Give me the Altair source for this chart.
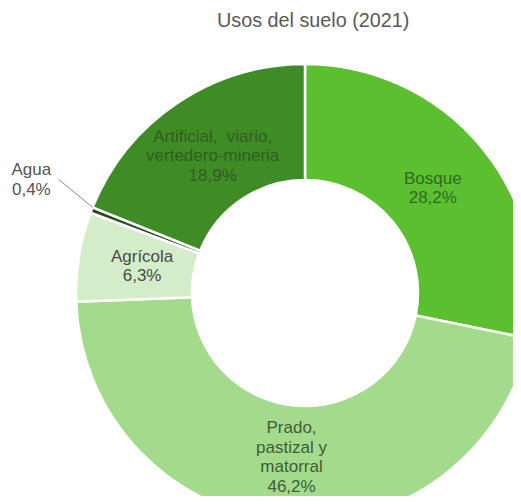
import altair as alt
import pandas as pd

categories = ["Bosque", "Prado, pastizal y matorral", "Agrícola", "Agua",
              "Artificial, viario, vertedero-mineria"]
values = [28.2, 46.2, 6.3, 0.4, 18.9]
labels = ["Bosque\n28,2%", "Prado,\npastizal y\nmatorral\n46,2%", "Agrícola\n6,3%", "",
          "Artificial,\u00a0 viario,\nvertedero-mineria\n18,9%"]
outside_labels = ["", "", "", "Agua\n0,4%", ""]
order = [0, 1, 2, 3, 4]

slice_colors = ["#5cbf2f", "#a4da8b", "#d4edc9", "#2e4a2a", "#3f8c26"]
label_colors = ["#2f6b1e", "#3d5e36", "#4a4a4a", "#555555", "#2f5e20"]

df = pd.DataFrame({"cat": categories, "value": values, "label": labels,
                   "outside": outside_labels, "order": order})

CX, CY = 297, 245
R_IN, R_OUT = 113, 229
LH = 19.5

base = alt.Chart(df).encode(
    theta=alt.Theta("value:Q", stack=True),
    order=alt.Order("order:Q"),
)

arcs = base.mark_arc(innerRadius=R_IN, outerRadius=R_OUT, stroke="white",
                     strokeWidth=2.5).encode(
    color=alt.Color("cat:N", scale=alt.Scale(domain=categories, range=slice_colors),
                    legend=None),
    x=alt.value(CX), y=alt.value(CY),
)

inner_text = base.transform_calculate(
    nlines="length(split(datum.label, '\\n'))"
).mark_text(radius=165, fontSize=17, font="Liberation Sans",
            lineBreak="\n", lineHeight=LH, align="center", baseline="middle",
            dy=alt.ExprRef(f"-(datum.nlines - 1) * {LH / 2}")).encode(
    text="label:N",
    color=alt.Color("cat:N", scale=alt.Scale(domain=categories, range=label_colors),
                    legend=None),
    x=alt.value(CX), y=alt.value(CY),
)

outer_text = base.transform_calculate(
    nlines="length(split(datum.outside, '\\n'))"
).mark_text(radius=285, dx=-8, fontSize=17, font="Liberation Sans",
            lineBreak="\n", lineHeight=LH, align="center", baseline="middle",
            color="#555555",
            dy=alt.ExprRef(f"-(datum.nlines - 1) * {LH / 2} - 10")).encode(
    text="outside:N",
    x=alt.value(CX), y=alt.value(CY),
)

leader = alt.Chart(df).transform_window(
    cum="sum(value)", sort=[alt.SortField("order")], frame=[None, 0]
).transform_joinaggregate(
    total="sum(value)"
).transform_calculate(
    ang="2*PI*datum.cum/datum.total",
).transform_filter(
    "datum.outside != ''"
).transform_calculate(
    xe=f"{CX} + {R_OUT}*sin(datum.ang)",
    ye=f"{CY} - {R_OUT}*cos(datum.ang)",
).transform_calculate(
    xs="datum.xe - 34",
    ys="datum.ye - 28",
).mark_rule(color="#8a8a8a", strokeWidth=1).encode(
    x=alt.X("xs:Q", scale=None, axis=None),
    y=alt.Y("ys:Q", scale=None, axis=None),
    x2="xe:Q",
    y2="ye:Q",
)

chart = alt.layer(arcs, inner_text, outer_text, leader).resolve_scale(
    color="independent"
).properties(
    width=505, height=448,
    autosize=alt.AutoSizeParams(type="none"),
    padding={"left": 0, "top": 40, "right": 0, "bottom": 0},
    title=alt.TitleParams("Usos del suelo (2021)", fontSize=19.8, font="Liberation Sans",
                          color="#595959", fontWeight="normal", anchor="start",
                          dx=209, offset=7),
).configure_view(stroke=None)

chart.save("out.html", embed_options={"renderer": "svg", "actions": False})
